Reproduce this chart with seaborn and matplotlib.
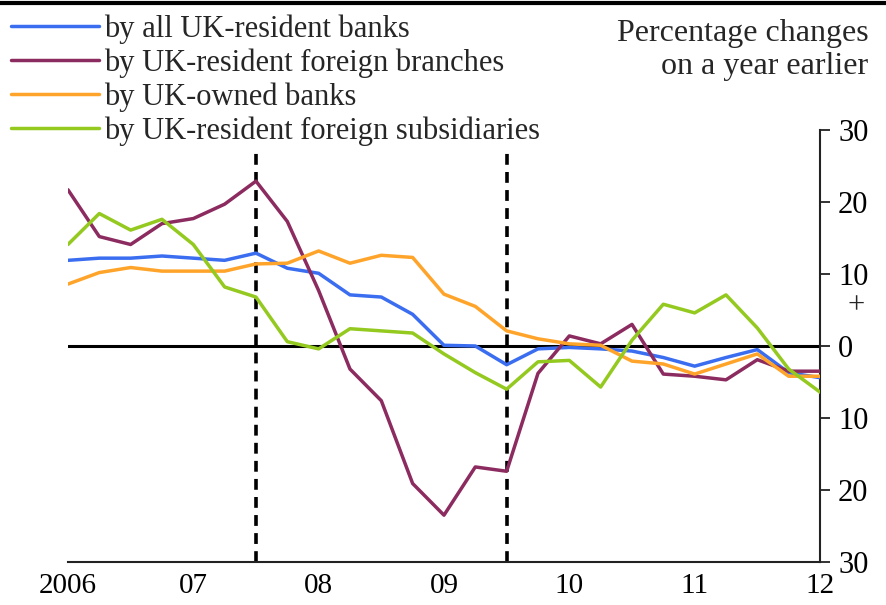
import numpy as np
import pandas as pd
import matplotlib
matplotlib.use("Agg")
import matplotlib.pyplot as plt
import seaborn as sns
from matplotlib.lines import Line2D

sns.set_style("white")
plt.rcParams['font.family'] = ['Liberation Serif', 'DejaVu Serif']

# quarterly observations, 2006 Q1 .. 2012 Q1
quarters = [2006 + 0.25 * i for i in range(25)]

all_banks = [11.9, 12.2, 12.2, 12.5, 12.2, 11.9, 12.9, 10.8, 10.1, 7.1, 6.8, 4.4,
             0.1, 0.0, -2.6, -0.4, -0.2, -0.4, -0.7, -1.6, -2.8, -1.6, -0.5, -3.7, -4.4]
foreign_branches = [21.7, 15.2, 14.1, 17.0, 17.7, 19.7, 22.9, 17.3, 7.7, -3.2, -7.6, -19.1,
                    -23.5, -16.8, -17.4, -3.8, 1.4, 0.3, 3.0, -3.9, -4.2, -4.7, -1.9, -3.5, -3.5]
uk_owned = [8.6, 10.2, 10.9, 10.4, 10.4, 10.4, 11.4, 11.5, 13.2, 11.5, 12.6, 12.3,
            7.2, 5.5, 2.1, 1.0, 0.3, 0.1, -2.1, -2.5, -3.9, -2.5, -1.1, -4.2, -4.2]
foreign_subs = [14.1, 18.4, 16.1, 17.6, 14.1, 8.2, 6.8, 0.6, -0.4, 2.4, 2.1, 1.8,
                -1.1, -3.7, -6.0, -2.2, -2.0, -5.7, 0.8, 5.8, 4.6, 7.1, 2.5, -3.2, -6.4]

series_names = ["by all UK-resident banks",
                "by UK-resident foreign branches",
                "by UK-owned banks",
                "by UK-resident foreign subsidiaries"]
colors = ["#3a6df0", "#8c2b5f", "#ffa42a", "#94c91f"]

year_ticks = [2006, 2007, 2008, 2009, 2010, 2011, 2012]
year_labels = ["2006", "07", "08", "09", "10", "11", "12"]
y_ticks = [-30, -20, -10, 0, 10, 20, 30]
y_labels = ["30", "20", "10", "0", "10", "20", "30"]
crisis_dates = [2007.5, 2009.5]

df = pd.DataFrame({
    "date": quarters * 4,
    "value": all_banks + foreign_branches + uk_owned + foreign_subs,
    "series": sum([[n] * len(quarters) for n in series_names], []),
})

fig = plt.figure(figsize=(8.86, 6.05), dpi=100)
ax = fig.add_axes([0.0767, 0.0711, 0.8488, 0.7140])

# reference lines first, so the data lines sit on top
ax.axhline(0, color="black", lw=2.2, zorder=1)
for d in crisis_dates:
    ax.plot([d, d], [-30, 27.3], color="black", lw=2.6, ls=(0, (3.0, 2.0)), zorder=1)

sns.lineplot(data=df, x="date", y="value", hue="series", hue_order=series_names,
             palette=dict(zip(series_names, colors)), lw=2.5, ax=ax, legend=False, zorder=3)

ax.set_xlim(2006, 2012)
ax.set_ylim(-30, 30)
ax.set_xlabel("")
ax.set_ylabel("")

for s in ["top", "left"]:
    ax.spines[s].set_visible(False)
ax.spines["right"].set_color("#222222")
ax.spines["bottom"].set_color("#222222")
ax.spines["right"].set_linewidth(1.5)
ax.spines["bottom"].set_linewidth(1.5)

ax.set_xticks(year_ticks)
ax.set_xticklabels(year_labels)
ax.tick_params(axis="x", direction="in", length=7, width=1.3, pad=8,
               labelsize=21, colors="#222222", labelcolor="black")

ax.yaxis.tick_right()
ax.set_yticks(y_ticks)
ax.set_yticklabels(y_labels)
ax.tick_params(axis="y", direction="out", length=7, width=1.3, pad=6,
               labelsize=22, colors="#222222", labelcolor="black")

# sign marker beside the zero label
ax.annotate("+", xy=(1.0, 5.6), xycoords=("axes fraction", "data"),
            xytext=(20, 0), textcoords="offset points",
            ha="left", va="center", fontsize=22)

# legend above the plot
handles = [Line2D([0], [0], color=c, lw=2.5) for c in colors]
fig.legend(handles, series_names, loc="upper left", bbox_to_anchor=(-0.012, 1.012),
           frameon=False, fontsize=22, handlelength=2.9, handletextpad=0.15,
           labelspacing=0.15, borderaxespad=0.3)

fig.text(0.98, 0.968, "Percentage changes\non a year earlier", ha="right", va="top",
         fontsize=23, linespacing=1.15)

# rule across the top of the figure
fig.add_artist(Line2D([0, 1], [0.995, 0.995], color="black", lw=3, transform=fig.transFigure))

fig.savefig("out.png", dpi=100)
